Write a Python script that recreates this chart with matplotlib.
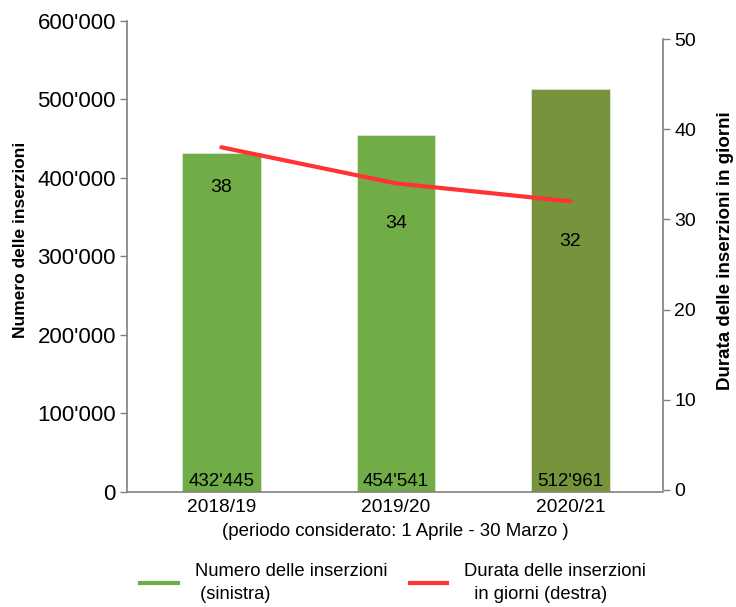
import numpy as np
import matplotlib.pyplot as plt
from matplotlib.lines import Line2D

# data
periodi = ['2018/19', '2019/20', '2020/21']
inserzioni = [432445, 454541, 512961]
durata = [38, 34, 32]
bar_colors = ['#70ad47', '#70ad47', '#77933c']

FONT = ['Liberation Sans', 'DejaVu Sans']


def fmt(v):
    return f'{v:,}'.replace(',', "'")


fig = plt.figure(figsize=(7.36, 6.07), dpi=100)
ax = fig.add_axes([0.1726, 0.1895, 0.7282, 0.7759])
ax2 = ax.twinx()

x = np.arange(len(periodi))
ax.bar(x, inserzioni, width=0.45, color=bar_colors, edgecolor='#d9e8cf', linewidth=0.6, zorder=2)
ax.set_xlim(-0.54, 2.53)
ax.set_ylim(0, 600000)
ax.set_yticks(np.arange(0, 600001, 100000))
ax.set_yticklabels([fmt(v) for v in range(0, 600001, 100000)], family=FONT, fontsize=16)
ax.set_xticks(x)
ax.set_xticklabels(periodi, family=FONT, fontsize=13.8)
ax.tick_params(axis='x', length=0, pad=5)
ax.tick_params(axis='y', length=5, width=1, color='#808080', pad=3)

for xi, v in zip(x, inserzioni):
    ax.text(xi, 2500, fmt(v), ha='center', va='bottom', family=FONT, fontsize=13.5)

ax2.plot(x, durata, color='#ff3333', linewidth=3, solid_capstyle='round', zorder=3)
ax2.set_ylim(-0.22, 52)
ax2.set_yticks(np.arange(0, 51, 10))
ax2.set_yticklabels([str(v) for v in range(0, 51, 10)], family=FONT, fontsize=14)
ax2.tick_params(axis='y', length=5, width=1, color='#808080', pad=3)
for xi, v in zip(x, durata):
    ax2.annotate(str(v), (xi, v), xytext=(0, -29), textcoords='offset points',
                 ha='center', va='center', family=FONT, fontsize=14)

for a in (ax, ax2):
    a.spines['top'].set_visible(False)
    for s in ('left', 'right', 'bottom'):
        a.spines[s].set_color('#808080')
        a.spines[s].set_linewidth(1.2)
ax.spines['right'].set_visible(False)
ax2.spines['left'].set_visible(False)
ax2.spines['bottom'].set_visible(False)
ax2.spines['right'].set_bounds(0, 50)

fig.text(21 / 736, 1 - 240 / 607, 'Numero delle inserzioni', rotation=90, ha='center', va='center',
         family=FONT, fontsize=12.5, fontweight='bold')
fig.text(725 / 736, 1 - 251 / 607, 'Durata delle inserzioni in giorni', rotation=90, ha='center',
         va='center', family=FONT, fontsize=13.5, fontweight='bold')
fig.text(395 / 736, 1 - 532 / 607, '(periodo considerato: 1 Aprile - 30 Marzo )', ha='center',
         va='center', family=FONT, fontsize=13.4)

handles = [Line2D([], [], color='#70ad47', linewidth=3),
           Line2D([], [], color='#ff3333', linewidth=3)]
labels = ['Numero delle inserzioni\n (sinistra)', 'Durata delle inserzioni\n  in giorni (destra)']
leg = fig.legend(handles, labels, loc='center left', bbox_to_anchor=(140 / 736, 1 - 583 / 607),
                 ncol=2, frameon=False, prop={'family': FONT, 'size': 13.2},
                 handlelength=2.07, columnspacing=1.2, handletextpad=0.93,
                 borderpad=0, borderaxespad=0)
for t in leg.get_texts():
    t.set_linespacing(1.45)

fig.savefig('out.png', dpi=100)
